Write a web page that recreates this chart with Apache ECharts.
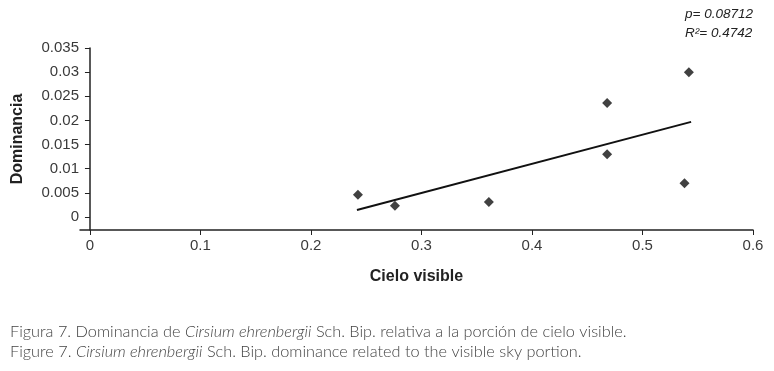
<!DOCTYPE html>
<html>
<head>
<meta charset="utf-8">
<script src="https://cdn.jsdelivr.net/npm/echarts@6/dist/echarts.min.js"></script>
<style>
  html, body { margin: 0; padding: 0; background: #fff; }
  #chart { width: 774px; height: 371px; }
</style>
</head>
<body>
<div id="chart"></div>
<script>
// puntos
const cieloVisible = [0.2425, 0.276, 0.361, 0.468, 0.468, 0.542, 0.538]
const dominancia = [0.0046, 0.0023, 0.0031, 0.0236, 0.0130, 0.0300, 0.0070]
// recta de regresion (extremos)
const trendX = [0.2416, 0.544]
const trendY = [0.00145, 0.0197]
const xTicks = [0, 0.1, 0.2, 0.3, 0.4, 0.5, 0.6]
const yTicks = [0, 0.005, 0.01, 0.015, 0.02, 0.025, 0.03, 0.035]
const statsText = ['p= 0.08712', 'R²= 0.4742']

const chart = echarts.init(document.getElementById('chart'))

const axisFont = { fontFamily: 'Liberation Sans, Arial, sans-serif', fontSize: 15, color: '#3a3a3a' }

const option = {
  animation: false,
  grid: { left: 80, right: 21, top: 48, bottom: 141, outerBoundsMode: 'none', containLabel: false },
  xAxis: {
    type: 'value',
    min: -0.009,
    max: 0.6,
    name: 'Cielo visible',
    nameLocation: 'middle',
    nameGap: 39,
    nameMoveOverlap: false,
    nameTextStyle: { fontFamily: 'Liberation Sans, Arial, sans-serif', fontSize: 16, fontWeight: 'bold', color: '#222' },
    axisLine: { onZero: false, lineStyle: { color: '#222', width: 1.5 } },
    axisTick: { customValues: xTicks, length: 5, lineStyle: { color: '#222' } },
    axisLabel: { customValues: xTicks, margin: 8, ...axisFont },
    splitLine: { show: false }
  },
  yAxis: {
    type: 'value',
    min: -0.0027,
    max: 0.035,
    name: 'Dominancia',
    nameLocation: 'middle',
    nameGap: 54,
    nameMoveOverlap: false,
    nameTextStyle: { fontFamily: 'Liberation Sans, Arial, sans-serif', fontSize: 16, fontWeight: 'bold', color: '#222' },
    axisLine: { show: true, onZero: true, lineStyle: { color: '#222', width: 1.5 } },
    axisTick: { show: true, customValues: yTicks, length: 5, lineStyle: { color: '#222' } },
    axisLabel: { customValues: yTicks, margin: 1, ...axisFont },
    splitLine: { show: false }
  },
  title: [
    {
      text: statsText.join('\n'),
      right: 16,
      top: 0,
      textStyle: {
        fontFamily: 'Liberation Sans, Arial, sans-serif',
        fontSize: 13.5,
        fontStyle: 'italic',
        fontWeight: 'normal',
        color: '#222',
        lineHeight: 19
      }
    },
    {
      text: 'Figura 7. Dominancia de {i|Cirsium ehrenbergii} Sch. Bip. relativa a la porción de cielo visible.\nFigure 7. {i|Cirsium ehrenbergii} Sch. Bip. dominance related to the visible sky portion.',
      left: 5,
      top: 317,
      textStyle: {
        fontFamily: 'Lato, sans-serif',
        fontSize: 16.3,
        fontWeight: 300,
        color: '#444',
        lineHeight: 20,
        rich: {
          i: { fontFamily: 'Lato, sans-serif', fontSize: 16.3, fontWeight: 300, fontStyle: 'italic', color: '#444' }
        }
      }
    }
  ],
  series: [
    {
      type: 'scatter',
      symbol: 'diamond',
      symbolSize: 10,
      itemStyle: { color: '#111' },
      data: cieloVisible.map((x, i) => [x, dominancia[i]])
    },
    {
      type: 'line',
      showSymbol: false,
      lineStyle: { color: '#111', width: 2 },
      data: trendX.map((x, i) => [x, trendY[i]])
    }
  ]
}

chart.setOption(option)
</script>
</body>
</html>
